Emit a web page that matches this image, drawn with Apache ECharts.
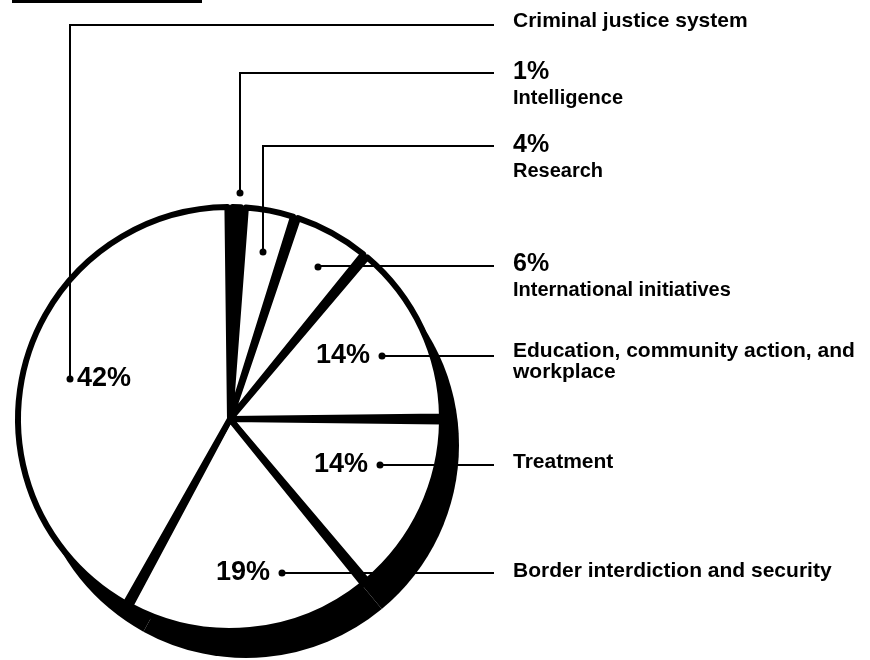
<!DOCTYPE html>
<html>
<head>
<meta charset="utf-8">
<script src="https://cdn.jsdelivr.net/npm/echarts@6/dist/echarts.min.js"></script>
<style>
  html, body { margin: 0; padding: 0; background: #fff; }
  #chart { width: 870px; height: 660px; }
</style>
</head>
<body>
<div id="chart"></div>
<script>
// categories, clockwise from 12 o'clock
var categories = [
  'Intelligence',
  'Research',
  'International initiatives',
  'Education, community action, and\nworkplace',
  'Treatment',
  'Border interdiction and security',
  'Criminal justice system'
];
// share of budget, percent
var shares = [1, 4, 6, 14, 14, 19, 42];

// pie geometry
var cx = 230, cy = 419, R = 213;
var FONT = '"Liberation Sans", Arial, Helvetica, sans-serif';

// annotation layout: dot inside slice, y of leader, y of label text
var notes = [
  { dot: [240, 193], lineY: 73, textY: 72, pctInside: false },
  { dot: [263, 252], lineY: 146, textY: 145, pctInside: false },
  { dot: [318, 267], lineY: 266, textY: 264, pctInside: false },
  { dot: [382, 356], lineY: 356, textY: 352, pctInside: true },
  { dot: [380, 465], lineY: 465, textY: 463, pctInside: true },
  { dot: [282, 573], lineY: 573, textY: 572, pctInside: true },
  { dot: [70, 379], lineY: 25, textY: 22, pctInside: true }
];
var lineEndX = 494, textX = 513;

var pieData = categories.map(function (c, i) {
  return { name: c, value: shares[i] };
});

var graphics = [];
// rule at the top left of the page
graphics.push({ type: 'rect', shape: { x: 12, y: 0, width: 190, height: 3 }, style: { fill: '#000' }, z: 100 });

notes.forEach(function (n, i) {
  var pts;
  if (Math.abs(n.dot[1] - n.lineY) < 3) {
    pts = [[n.dot[0], n.lineY], [lineEndX, n.lineY]];
  } else {
    pts = [[n.dot[0], n.dot[1]], [n.dot[0], n.lineY], [lineEndX, n.lineY]];
  }
  graphics.push({ type: 'polyline', shape: { points: pts }, style: { stroke: '#000', lineWidth: 2, fill: null }, z: 100 });
  graphics.push({ type: 'circle', shape: { cx: n.dot[0], cy: n.dot[1], r: 3.5 }, style: { fill: '#000' }, z: 100 });

  var pct = shares[i] + '%';
  if (n.pctInside) {
    var left = (i === 6);
    graphics.push({
      type: 'text', z: 100,
      style: {
        text: pct, x: left ? n.dot[0] + 7 : n.dot[0] - 12, y: n.dot[1],
        font: 'bold 27px ' + FONT, fill: '#000',
        align: left ? 'left' : 'right', verticalAlign: 'middle'
      }
    });
    graphics.push({
      type: 'text', z: 100,
      style: {
        text: categories[i], x: textX, y: n.textY - 11,
        font: 'bold 21px ' + FONT, fill: '#000', lineHeight: 21,
        align: 'left', verticalAlign: 'top'
      }
    });
  } else {
    graphics.push({
      type: 'text', z: 100,
      style: {
        text: pct, x: textX, y: n.textY,
        font: 'bold 25px ' + FONT, fill: '#000',
        align: 'left', verticalAlign: 'middle'
      }
    });
    graphics.push({
      type: 'text', z: 100,
      style: {
        text: categories[i], x: textX, y: n.textY + 26,
        font: 'bold 20px ' + FONT, fill: '#000',
        align: 'left', verticalAlign: 'middle'
      }
    });
  }
});

var chart = echarts.init(document.getElementById('chart'));
var option = {
  animation: false,
  backgroundColor: '#fff',
  series: [
    {
      // dark depth of the pie, shifted down and right
      type: 'pie', silent: true, z: 1,
      center: [cx + 16, cy + 26], radius: R,
      label: { show: false }, labelLine: { show: false },
      itemStyle: { color: '#000', borderWidth: 0 },
      emphasis: { disabled: true },
      data: pieData
    },
    {
      // black underlay that shows between slices
      type: 'pie', silent: true, z: 2,
      center: [cx, cy], radius: R,
      label: { show: false }, labelLine: { show: false },
      itemStyle: { color: '#000', borderWidth: 0 },
      emphasis: { disabled: true },
      data: pieData
    },
    {
      type: 'pie', silent: true, z: 3,
      center: [cx, cy], radius: R - 1,
      padAngle: 1.4,
      label: { show: false }, labelLine: { show: false },
      itemStyle: {
        color: function (p) { return p.dataIndex === 0 ? '#000' : '#fff'; },
        borderColor: '#000', borderWidth: 6
      },
      emphasis: { disabled: true },
      data: pieData
    }
  ],
  graphic: graphics
};
chart.setOption(option);
</script>
</body>
</html>
